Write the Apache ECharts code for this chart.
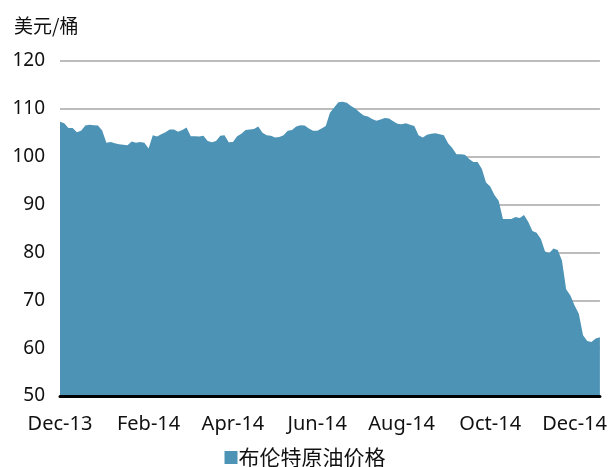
<!DOCTYPE html>
<html>
<head>
<meta charset="utf-8">
<title>布伦特原油价格</title>
<script src="https://cdn.jsdelivr.net/npm/echarts@6/dist/echarts.min.js"></script>
<style>
  html, body { margin: 0; padding: 0; background: #fff; }
  #chart { width: 610px; height: 467px; }
</style>
</head>
<body>
<div id="chart"></div>
<script>
// sample every 3 days starting 1 Dec 2013
const startYear = 2013
const startMonth = 11
const startDay = 1
const stepDays = 3

// Brent price, USD / barrel
const prices = [
  107.3, 107.0, 106.0, 106.0, 105.1, 105.4, 106.5, 106.7, 106.6, 106.5,
  105.5, 102.9, 103.1, 102.8, 102.6, 102.5, 102.4, 103.2, 102.9, 103.1,
  102.9, 101.7, 104.5, 104.2, 104.7, 105.1, 105.7, 105.7, 105.2, 105.6,
  106.1, 104.3, 104.3, 104.2, 104.4, 103.3, 103.0, 103.3, 104.4, 104.5,
  103.0, 103.1, 104.3, 104.8, 105.6, 105.7, 105.8, 106.3, 105.0, 104.5,
  104.4, 104.0, 104.1, 104.5, 105.4, 105.6, 106.3, 106.6, 106.5, 105.9,
  105.4, 105.4, 105.9, 106.4, 109.2, 110.3, 111.4, 111.5, 111.3, 110.6,
  110.1, 109.3, 108.6, 108.4, 107.9, 107.5, 107.8, 108.1, 108.0, 107.4,
  106.9, 106.8, 107.0, 106.7, 106.4, 104.5, 104.0, 104.6, 104.8, 104.9,
  104.7, 104.5, 102.8, 101.8, 100.5, 100.5, 100.4, 99.5, 98.9, 98.9,
  97.5, 94.6, 93.8, 92.0, 90.8, 87.0, 87.0, 87.0, 87.4, 87.2,
  87.8, 86.4, 84.5, 84.1, 82.8, 80.2, 79.9, 80.8, 80.5, 78.3,
  72.3, 71.0, 68.9, 67.2, 62.7, 61.5, 61.3, 62.0, 62.3
]

const tickLabels = ['Dec-13', 'Feb-14', 'Apr-14', 'Jun-14', 'Aug-14', 'Oct-14', 'Dec-14']
const monthNames = ['Jan', 'Feb', 'Mar', 'Apr', 'May', 'Jun', 'Jul', 'Aug', 'Sep', 'Oct', 'Nov', 'Dec']

const dates = prices.map((_, i) => new Date(Date.UTC(startYear, startMonth, startDay + i * stepDays)))
const categories = dates.map(d => d.toISOString().slice(0, 10))
const monthLabel = d => monthNames[d.getUTCMonth()] + '-' + String(d.getUTCFullYear()).slice(2)

// first sample of each labelled month gets the label
function showLabel(index) {
  const lab = monthLabel(dates[index])
  if (tickLabels.indexOf(lab) < 0) return false
  return index === 0 || monthLabel(dates[index - 1]) !== lab
}

const chart = echarts.init(document.getElementById('chart'))
const textColor = '#111'
const fontFamily = '"Noto Sans", "Noto Sans CJK SC", sans-serif'
const cjkFont = '"Noto Sans CJK SC", sans-serif'

chart.setOption({
  animation: false,
  textStyle: { fontFamily: fontFamily },
  title: {
    text: '美元/桶',
    left: 9,
    top: 11,
    textStyle: { fontSize: 19, fontWeight: 'normal', color: textColor, fontFamily: cjkFont }
  },
  grid: {
    left: 60,
    right: 6,
    top: 61,
    bottom: 71
  },
  legend: {
    bottom: -6,
    left: 'center',
    icon: 'rect',
    itemWidth: 13,
    itemHeight: 13,
    itemGap: 4,
    textStyle: { fontSize: 21, color: textColor, fontFamily: cjkFont, padding: [0, 0, 0, -4] },
    data: ['布伦特原油价格']
  },
  xAxis: {
    type: 'category',
    boundaryGap: false,
    data: categories,
    z: 5,
    axisLine: { lineStyle: { color: '#000', width: 3 } },
    axisTick: { show: false },
    axisLabel: {
      interval: showLabel,
      formatter: (value, index) => monthLabel(dates[index]),
      color: textColor,
      fontSize: 20,
      margin: 18,
      hideOverlap: false
    },
    splitLine: { show: false }
  },
  yAxis: {
    type: 'value',
    min: 50,
    max: 120,
    interval: 10,
    axisLine: { show: false },
    axisTick: { show: false },
    axisLabel: { color: textColor, fontSize: 19, margin: 15 },
    splitLine: { lineStyle: { color: '#a6a6a6', width: 1.5 } }
  },
  series: [{
    name: '布伦特原油价格',
    type: 'line',
    data: prices,
    symbol: 'none',
    lineStyle: { width: 0 },
    itemStyle: { color: '#4d93b5' },
    areaStyle: { color: '#4d93b5', opacity: 1 }
  }]
})
</script>
</body>
</html>
